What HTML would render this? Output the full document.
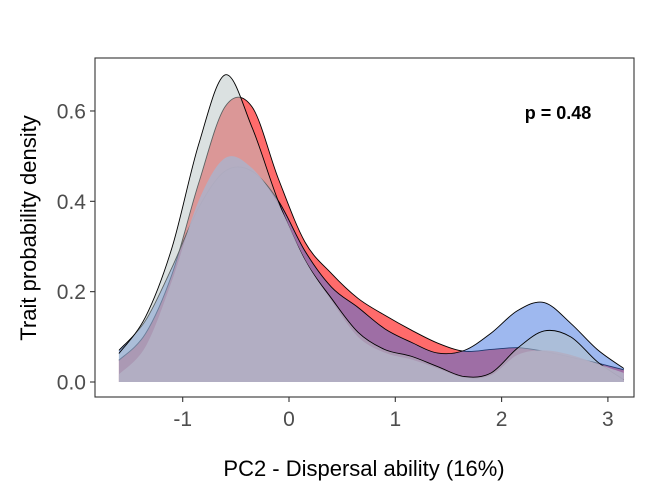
<!DOCTYPE html>
<html><head><meta charset="utf-8"><style>
body{margin:0;background:#fff;}
svg{display:block;font-family:"Liberation Sans",Arial,sans-serif;}
</style></head><body>
<svg id="chart" width="664" height="495"></svg>
<script>
const xs=[-1.6,-1.35,-1.1,-0.85,-0.6,-0.35,-0.1,0.15,0.4,0.65,0.9,1.15,1.4,1.65,1.9,2.15,2.4,2.65,2.9,3.15];
const redVals=[0.048,0.107,0.239,0.44,0.61,0.61,0.45,0.31,0.24,0.185,0.148,0.115,0.086,0.068,0.072,0.076,0.068,0.055,0.042,0.027];
const blueVals=[0.07,0.136,0.254,0.386,0.467,0.467,0.401,0.29,0.21,0.165,0.118,0.088,0.064,0.07,0.108,0.158,0.176,0.13,0.072,0.03];
const greyVals=[0.063,0.144,0.298,0.526,0.68,0.565,0.4,0.27,0.185,0.11,0.072,0.057,0.034,0.012,0.02,0.075,0.113,0.1,0.045,0.005];
const fourthVals=[0.017,0.078,0.225,0.401,0.496,0.474,0.393,0.27,0.18,0.1,0.065,0.05,0.03,0.01,0.015,0.06,0.07,0.06,0.04,0.02];
const xTicks=[-1,0,1,2,3];
const yTicks=[0,0.2,0.4,0.6];
const yTickLabels=["0.0","0.2","0.4","0.6"];

const NS="http://www.w3.org/2000/svg";
const svg=document.getElementById('chart');
const X=v=>289+106.3*v;
const Y=v=>382-451.7*v;
function mk(tag,attrs,parent){const e=document.createElementNS(NS,tag);for(const k in attrs)e.setAttribute(k,attrs[k]);(parent||svg).appendChild(e);return e;}
function smooth(pts){
  let d="M"+pts[0][0]+","+pts[0][1];
  for(let i=0;i<pts.length-1;i++){
    const p0=pts[Math.max(0,i-1)],p1=pts[i],p2=pts[i+1],p3=pts[Math.min(pts.length-1,i+2)];
    const c1=[p1[0]+(p2[0]-p0[0])/6,p1[1]+(p2[1]-p0[1])/6];
    const c2=[p2[0]-(p3[0]-p1[0])/6,p2[1]-(p3[1]-p1[1])/6];
    d+=" C"+c1[0]+","+c1[1]+" "+c2[0]+","+c2[1]+" "+p2[0]+","+p2[1];
  }
  return d;
}
function series(vals,fill,stroke,name){
  const pts=xs.map((x,i)=>[X(x),Y(vals[i])]);
  const line=smooth(pts);
  const area=line+" L"+X(xs[xs.length-1])+","+Y(0)+" L"+X(xs[0])+","+Y(0)+" Z";
  const a=mk('path',{d:area,fill:fill,stroke:'none'});
  
  
  if(stroke){const l=mk('path',{d:line,fill:'none',stroke:stroke,'stroke-width':0.9});
    
    }
}
series(redVals,'rgba(255,0,0,0.58)','#000','red-density');
series(blueVals,'rgba(61,114,224,0.5)','#000','blue-density');
series(greyVals,'rgba(183,195,195,0.5)','#000','grey-density');
series(fourthVals,'rgba(178,175,196,0.95)',null,'purple-density');

const frame=mk('rect',{x:95,y:58,width:539,height:339,fill:'none',stroke:'#333','stroke-width':1.1});


xTicks.forEach(t=>{
  const tk=mk('line',{x1:X(t),x2:X(t),y1:397,y2:402,stroke:'#333','stroke-width':1.1});
  
  
  const tl=mk('text',{x:X(t),y:426,'text-anchor':'middle','font-size':21,fill:'#4d4d4d'});
  tl.textContent=t===0?"0":(t<0?"-"+Math.abs(t):String(t));
  
  
});
yTicks.forEach((t,i)=>{
  const tk=mk('line',{x1:90,x2:95,y1:Y(t),y2:Y(t),stroke:'#333','stroke-width':1.1});
  
  
  const tl=mk('text',{x:86,y:Y(t)+7.5,'text-anchor':'end','font-size':21,fill:'#4d4d4d'});
  tl.textContent=yTickLabels[i];
  
  
});
const xt=mk('text',{x:364,y:476,'text-anchor':'middle','font-size':22,fill:'#000'});
xt.textContent="PC2 - Dispersal ability (16%)";


const yt=mk('text',{x:0,y:0,'text-anchor':'middle','font-size':22,fill:'#000',transform:'translate(36,228) rotate(-90)'});
yt.textContent="Trait probability density";


const pt=mk('text',{x:558,y:119,'text-anchor':'middle','font-size':18,'font-weight':'bold',fill:'#000'});
pt.textContent="p = 0.48";


</script>
</body></html>
